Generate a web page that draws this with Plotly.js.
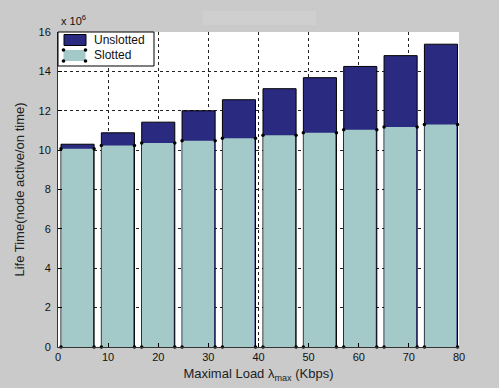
<!DOCTYPE html>
<html>
<head>
<meta charset="utf-8">
<script src="https://cdn.plot.ly/plotly-3.0.1.min.js"></script>
<style>html,body{margin:0;padding:0;background:#cacaca;}#chart{width:499px;height:388px;}</style>
</head>
<body>
<div id="chart"></div>
<script>
// Data (values in units of 10^6)
const loadPositions = [3.9, 11.95, 20.0, 28.05, 36.1, 44.2, 52.25, 60.3, 68.35, 76.4];
const unslotted = [10.3, 10.88, 11.42, 12.0, 12.56, 13.12, 13.68, 14.25, 14.8, 15.38];
const slotted = [10.07, 10.24, 10.36, 10.47, 10.6, 10.75, 10.88, 11.03, 11.17, 11.3];
const xTicks = [0, 10, 20, 30, 40, 50, 60, 70, 80];
const yTicks = [0, 2, 4, 6, 8, 10, 12, 14, 16];
const seriesNames = ["Unslotted", "Slotted"];

const barWidth = 6.6;
const navy = "#2a2a80";
const teal = "#a3c9c8";

// corner markers of the slotted bars
const cx = [], cy = [];
loadPositions.forEach((p, i) => {
  cx.push(p - barWidth / 2, p + barWidth / 2, p - barWidth / 2, p + barWidth / 2);
  cy.push(0, 0, slotted[i], slotted[i]);
});

const traces = [
  {type: "bar", name: seriesNames[0], x: loadPositions, y: unslotted, width: barWidth,
   marker: {color: navy, line: {color: "#000", width: 1}}, hoverinfo: "skip"},
  {type: "bar", name: seriesNames[1], x: loadPositions, y: slotted, width: barWidth - 0.25,
   offset: -barWidth / 2 + 0.05,
   marker: {color: teal, line: {color: teal, width: 0}}, hoverinfo: "skip"},
  {type: "scatter", mode: "markers", x: cx, y: cy, cliponaxis: false,
   marker: {color: "#000", size: 3.5}, hoverinfo: "skip"}
];

// plot-area pixel helpers -> paper coords
const L = 58, R = 459, T = 32, B = 347;
const px = v => (v - L) / (R - L);
const py = v => (B - v) / (B - T);

const shapes = [
  {type: "rect", xref: "paper", yref: "paper", x0: px(203), x1: px(316), y0: py(11), y1: py(25),
   fillcolor: "#cfcfcf", line: {width: 0}, layer: "below"},
  {type: "rect", xref: "paper", yref: "paper", x0: 0, x1: px(154), y0: py(66), y1: 1,
   fillcolor: "#fff", line: {color: "#000", width: 1}, layer: "above"},
  {type: "rect", xref: "paper", yref: "paper", x0: px(64), x1: px(86), y0: py(45.5), y1: py(34.5),
   fillcolor: navy, line: {color: "#000", width: 1}, layer: "above"},
  {type: "rect", xref: "paper", yref: "paper", x0: px(63.5), x1: px(85.5), y0: py(61), y1: py(50),
   fillcolor: teal, line: {width: 0}, layer: "above"}
];
[[63.5, 50], [85.5, 50], [63.5, 61], [85.5, 61]].forEach(([a, b]) => {
  shapes.push({type: "circle", xref: "paper", yref: "paper", xsizemode: "pixel", ysizemode: "pixel",
    xanchor: px(a), yanchor: py(b), x0: -1.8, x1: 1.8, y0: -1.8, y1: 1.8,
    fillcolor: "#000", line: {width: 0}, layer: "above"});
});

const font = {family: "Liberation Sans, Arial, sans-serif", color: "#111", size: 11};

const layout = {
  width: 499, height: 388,
  paper_bgcolor: "#cacaca", plot_bgcolor: "#ffffff",
  margin: {l: L, r: 499 - R, t: T, b: 388 - B, pad: 0},
  showlegend: false,
  barmode: "overlay",
  font: font,
  xaxis: {
    range: [0, 80], tickmode: "array", tickvals: xTicks, ticktext: xTicks.map(String),
    ticks: "inside", ticklen: 4, tickcolor: "#000",
    showline: true, linecolor: "#333", linewidth: 1,
    showgrid: true, gridcolor: "#222", griddash: "dot", gridwidth: 1,
    zeroline: false, tickfont: {size: 11, color: "#111", family: font.family},
    title: {text: "Maximal Load λ<sub>max</sub> (Kbps)", font: {size: 13, color: "#222", family: font.family}, standoff: 6}
  },
  yaxis: {
    range: [0, 16], tickmode: "array", tickvals: yTicks, ticktext: yTicks.map(String),
    ticks: "inside", ticklen: 4, tickcolor: "#000",
    showline: true, linecolor: "#333", linewidth: 1,
    showgrid: true, gridcolor: "#222", griddash: "dot", gridwidth: 1,
    zeroline: false, ticklabelstandoff: 4, tickfont: {size: 11, color: "#111", family: font.family},
    title: {text: "Life Time(node active/on time)", font: {size: 13, color: "#222", family: font.family}, standoff: 10}
  },
  shapes: shapes,
  annotations: [
    {xref: "paper", yref: "paper", x: px(59), y: py(20), xanchor: "left", yanchor: "middle",
     text: "x 10<sup>6</sup>", showarrow: false, font: {size: 11, color: "#111", family: font.family}},
    {xref: "paper", yref: "paper", x: px(92), y: py(40), xanchor: "left", yanchor: "middle",
     text: seriesNames[0], showarrow: false, font: {size: 12, color: "#111", family: font.family}},
    {xref: "paper", yref: "paper", x: px(92), y: py(55.5), xanchor: "left", yanchor: "middle",
     text: seriesNames[1], showarrow: false, font: {size: 12, color: "#111", family: font.family}}
  ]
};

Plotly.newPlot("chart", traces, layout, {staticPlot: true, displayModeBar: false});
</script>
</body>
</html>
